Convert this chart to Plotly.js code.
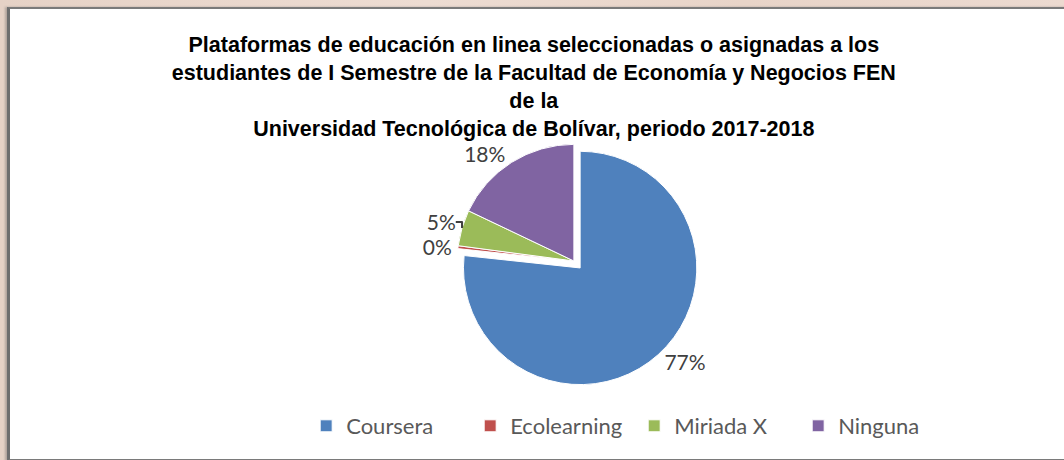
<!DOCTYPE html>
<html>
<head>
<meta charset="utf-8">
<script src="https://cdn.plot.ly/plotly-3.0.1.min.js"></script>
<style>
  html, body { margin: 0; padding: 0; width: 1064px; height: 460px; overflow: hidden;
    background: linear-gradient(90deg, #e6d2c6 0%, #eddcd2 40%, #e8d4c8 70%, #ecdad0 100%); }
  #frame { position: absolute; left: 7px; top: 7px; width: 1070px; height: 450px;
    background: #ffffff; border-left: 3px solid #6e6e6e; border-top: 2px solid #7a7a7a;
    border-bottom: 2px solid #7a7a7a; box-shadow: -2px 0 2px rgba(80,80,80,0.35); }
  #chart { width: 1054px; height: 450px; }
</style>
</head>
<body>
<div id="frame"><div id="chart"></div></div>
<script>
const categories = ["Coursera", "Ecolearning", "Miriada X", "Ninguna"];
const values = [77, 0.4, 5, 18];
const colors = ["#4F81BD", "#C0504D", "#9BBB59", "#8064A2"];
const titleLines = [
  "Plataformas de educación en linea seleccionadas o asignadas a los",
  "estudiantes de I Semestre de la Facultad de Economía y Negocios FEN",
  "de la",
  "Universidad Tecnológica de Bolívar, periodo 2017-2018"
];

const trace = {
  type: "pie",
  labels: categories,
  values: values,
  sort: false,
  direction: "clockwise",
  rotation: 0,
  pull: [0.08, 0, 0, 0],
  marker: { colors: colors, line: { color: "#ffffff", width: 1 } },
  textposition: "outside",
  texttemplate: "%{percent:.0%}",
  textfont: { family: "Lato, 'Noto Sans', sans-serif", size: 21, color: "#404040" },
  hoverinfo: "label+percent",
  domain: { x: [0.28, 0.79], y: [0.16, 0.72] },
  automargin: false
};

const layout = {
  width: 1054,
  height: 450,
  margin: { l: 0, r: 0, t: 0, b: 0 },
  paper_bgcolor: "#ffffff",
  plot_bgcolor: "#ffffff",
  title: {
    text: "<b>" + titleLines.join("<br>") + "</b>",
    x: 0.497, xanchor: "center",
    y: 0.905, yanchor: "top", yref: "container",
    font: { family: "'Liberation Sans', Arial, sans-serif", size: 21.5, color: "#000000" }
  },
  showlegend: true,
  legend: {
    orientation: "h",
    x: 0.281, xanchor: "left",
    y: 0.12, yanchor: "top",
    font: { family: "Lato, 'Noto Sans', sans-serif", size: 22, color: "#595959" },
    itemwidth: 30,
    entrywidth: 119,
    traceorder: "normal"
  }
};

Plotly.newPlot("chart", [trace], layout, { displayModeBar: false, staticPlot: true });
</script>
</body>
</html>
